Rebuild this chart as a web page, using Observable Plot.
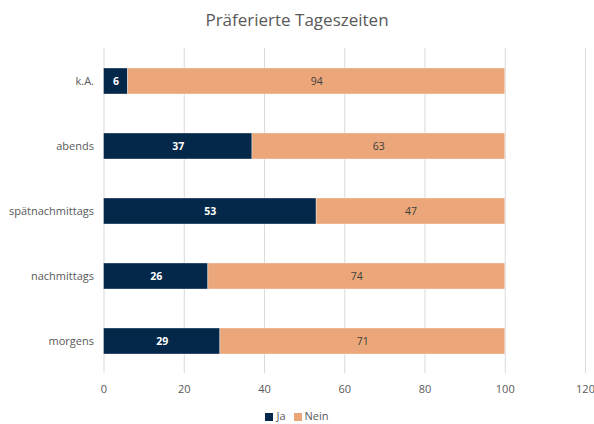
<!DOCTYPE html>
<html><head><meta charset="utf-8">
<script src="https://cdn.jsdelivr.net/npm/d3@7"></script>
<script src="https://cdn.jsdelivr.net/npm/@observablehq/plot@0.6"></script>
<style>
body{margin:0;background:#fff;font-family:"Open Sans",sans-serif;}
#wrap{width:594px;height:424px;position:relative;}
#title{position:absolute;top:8px;left:0;width:594px;text-align:center;font-size:17px;color:#595959;}
#chart{position:absolute;top:40px;left:0;}
#legend{position:absolute;top:408px;left:0;width:594px;text-align:center;font-size:11px;color:#595959;}
.sw{display:inline-block;width:8px;height:8px;margin-right:3px;vertical-align:-1px;}
.it{margin:0 4px;}
</style></head>
<body><div id="wrap"><div id="title">Präferierte Tageszeiten</div><div id="chart"></div><div id="legend"></div></div>
<script>
const categories = ["k.A.","abends","spätnachmittags","nachmittags","morgens"];
const ja = [6,37,53,26,29];
const nein = [94,63,47,74,71];
const series = ["Ja","Nein"];
const colors = ["#03284A","#EBA679"];
const xTicks = [0,20,40,60,80,100,120];

const table = [];
categories.forEach((c,i)=>{
  table.push({cat:c, series:"Ja", value:ja[i]});
  table.push({cat:c, series:"Nein", value:nein[i]});
});

const W = 594, H = 364;
const plot = Plot.plot({
  width: W, height: H,
  marginLeft: 103.5, marginRight: 9, marginTop: 8, marginBottom: 31,
  style:{fontFamily:"Open Sans, sans-serif", fontSize:"11px", color:"#595959", background:"transparent"},
  x:{domain:[0,120], ticks:xTicks, label:null, tickSize:0, tickPadding:12, grid:false},
  y:{domain:categories, label:null, tickSize:0, tickPadding:10, paddingInner:0.6, paddingOuter:0.3},
  color:{domain:series, range:colors},
  marks:[
    Plot.ruleX(xTicks,{stroke:"#d9d9d9", strokeWidth:1}),
    Plot.barX(table, Plot.stackX({x:"value", y:"cat", fill:"series", stroke:"#fff", strokeOpacity:0.5, strokeWidth:0.7})),
    Plot.text(table, Plot.stackX({x:"value", y:"cat", text:d=>d.series==="Ja"?d.value:"", fill:"#fff", fontWeight:"bold", fontSize:10.5})),
    Plot.text(table, Plot.stackX({x:"value", y:"cat", text:d=>d.series==="Nein"?d.value:"", fill:"#404040", fontSize:10.5}))
  ]
});
document.getElementById("chart").appendChild(plot);

const lg = document.getElementById("legend");
series.forEach((s,i)=>{
  const sp = document.createElement("span"); sp.className="it";
  const sw = document.createElement("span"); sw.className="sw"; sw.style.background=colors[i];
  sp.appendChild(sw); sp.appendChild(document.createTextNode(s));
  lg.appendChild(sp);
});
</script></body></html>
